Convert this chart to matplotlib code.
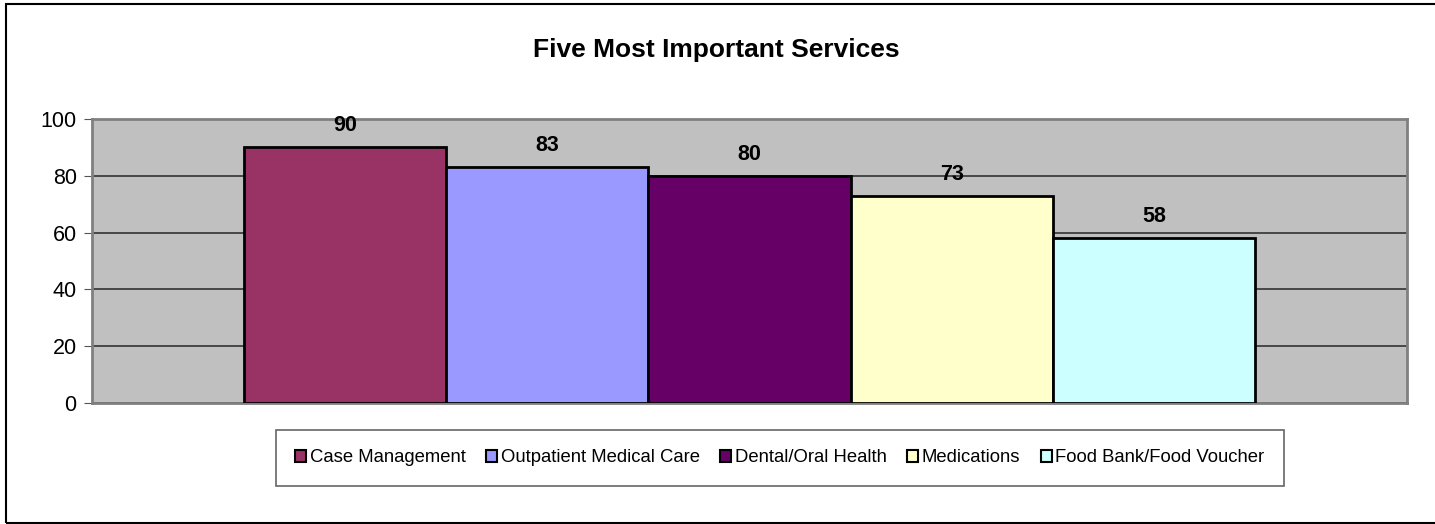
import matplotlib.pyplot as plt
from matplotlib.patches import Rectangle

services = ['Case Management', 'Outpatient Medical Care', 'Dental/Oral Health',
            'Medications', 'Food Bank/Food Voucher']
values = [90, 83, 80, 73, 58]
colors = ['#993366', '#9999FF', '#660066', '#FFFFCC', '#CCFFFF']
yticks = [0, 20, 40, 60, 80, 100]

plt.rcParams['font.family'] = ['Liberation Sans', 'DejaVu Sans']

fig = plt.figure(figsize=(14.35, 5.24), dpi=100)
# outer chart border
fig.patches.append(Rectangle((6 / 1435, 1 / 524), 1.0, 519 / 524, transform=fig.transFigure,
                             fill=False, edgecolor='black', linewidth=1.5))

ax = fig.add_axes([92 / 1435, 121 / 524, 1315 / 1435, 284 / 524])
ax.set_facecolor('#C0C0C0')

# one category, five series side by side
n = len(values)
group_w = 1011 / 1315
bar_w = group_w / n
start = 0.5 - group_w / 2
for i, (name, v, c) in enumerate(zip(services, values, colors)):
    x = start + bar_w * (i + 0.5)
    ax.bar(x, v, width=bar_w, color=c, edgecolor='black', linewidth=2, label=name, zorder=3)
    ax.annotate(str(v), (x, v), xytext=(0, 8), textcoords='offset points',
                ha='center', va='bottom', fontsize=15.5, fontweight='bold', zorder=4)

ax.set_xlim(0, 1)
ax.set_ylim(0, 100)
ax.set_yticks(yticks)
ax.set_xticks([])
ax.yaxis.grid(True, color='#333333', linewidth=1.2, zorder=1)
ax.tick_params(axis='y', labelsize=15.5, length=6, color='#555555', pad=5)
for s in ax.spines.values():
    s.set_color('#808080')
    s.set_linewidth(2)

ax.set_title('Five Most Important Services', fontsize=19, fontweight='bold', pad=45, x=0.4745)

leg = ax.legend(loc='upper center', bbox_to_anchor=(0.523, -0.095), ncol=5, fontsize=13.3,
                frameon=True, fancybox=False, handlelength=0.6, handleheight=0.6,
                handletextpad=0.2, columnspacing=1.1, borderpad=1.05, borderaxespad=0)
leg.get_frame().set_edgecolor('#404040')
leg.get_frame().set_linewidth(1.2)
for h in leg.legend_handles:
    h.set_linewidth(1.5)

fig.savefig('out.png', dpi=100)
